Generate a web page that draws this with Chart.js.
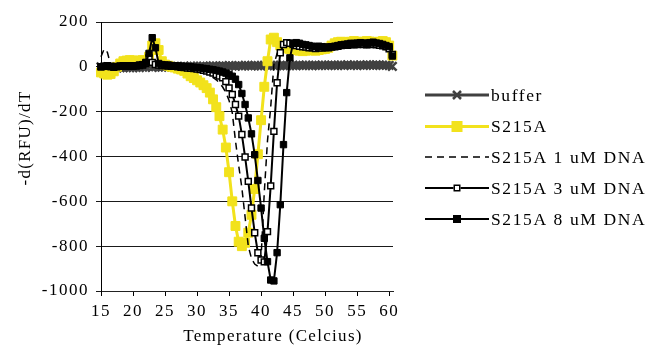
<!DOCTYPE html>
<html>
<head>
<meta charset="utf-8">
<script src="https://cdn.jsdelivr.net/npm/chart.js@4.4.0/dist/chart.umd.min.js"></script>
<style>
  html, body { margin: 0; padding: 0; background: #fff; }
  #wrap { width: 652px; height: 348px; }
</style>
</head>
<body>
<div id="wrap"><canvas id="melt" width="652" height="348"></canvas></div>
<script>
// temperature steps (Celcius)
const temps = [
  15, 15.5, 16, 16.5, 17, 17.5, 18, 18.5, 19, 19.5,
  20, 20.5, 21, 21.5, 22, 22.5, 23, 23.5, 24, 24.5,
  25, 25.5, 26, 26.5, 27, 27.5, 28, 28.5, 29, 29.5,
  30, 30.5, 31, 31.5, 32, 32.5, 33, 33.5, 34, 34.5,
  35, 35.5, 36, 36.5, 37, 37.5, 38, 38.5, 39, 39.5,
  40, 40.5, 41, 41.5, 42, 42.5, 43, 43.5, 44, 44.5,
  45, 45.5, 46, 46.5, 47, 47.5, 48, 48.5, 49, 49.5,
  50, 50.5, 51, 51.5, 52, 52.5, 53, 53.5, 54, 54.5,
  55, 55.5, 56, 56.5, 57, 57.5, 58, 58.5, 59, 59.5,
  60, 60.5
];

// -d(RFU)/dT
const bufferVals = [
  0, -3, -5, -4, -6, -5, -4, -3, -2, -4,
  -3, -2, -3, -1, 0, 2, -2, 1, 0, -1,
  0, 1, 0, 2, 1, 0, 2, 1, 3, 2,
  1, 2, 3, 1, 2, 4, 3, 2, 4, 3,
  5, 4, 3, 5, 4, 6, 5, 4, 6, 5,
  4, 6, 5, 7, 6, 5, 7, 6, 5, 7,
  6, 5, 7, 6, 8, 6, 5, 7, 6, 8,
  7, 6, 8, 7, 6, 8, 7, 9, 7, 8,
  6, 8, 7, 9, 8, 7, 9, 8, 6, 8,
  7, 2
];
const s215aVals = [
  -25, -30, -35, -32, -20, 0, 15, 25, 28, 30,
  28, 25, 28, 30, 25, 45, 95, 105, 75, 25,
  10, 5, 0, -3, -8, -12, -18, -30, -42, -50,
  -60, -70, -82, -95, -115, -145, -180, -220, -280, -360,
  -470, -600, -710, -780, -800, -785, -740, -660, -545, -390,
  -238, -89, 25, 122, 130, 110, 95, 88, 82, 80,
  78, 75, 72, 70, 72, 75, 74, 72, 75, 78,
  80, 85, 95, 105, 110, 112, 108, 110, 112, 115,
  112, 110, 112, 115, 113, 110, 108, 112, 115, 110,
  95, 50
];
const dna1Vals = [
  45, 80, 65, 10, 0, -3, -2, 0, 2, 3,
  2, 3, 4, 5, 8, 15, 20, 12, 6, 4,
  3, 2, 0, -2, -4, -6, -8, -10, -12, -14,
  -16, -19, -24, -30, -38, -47, -58, -72, -90, -115,
  -150, -205, -330, -440, -540, -670, -800, -855, -880, -890,
  -850, -560, -330, -180, 10, 60, 80, 88, 92, 90,
  88, 85, 86, 84, 82, 84, 85, 83, 84, 86,
  85, 88, 90, 92, 95, 96, 98, 97, 100, 99,
  100, 102, 100, 98, 100, 99, 97, 95, 92, 88,
  80, 55
];
const dna3Vals = [
  0, 3, 5, 3, 0, 2, 4, 5, 3, 4,
  5, 5, 6, 8, 15, 40, 20, 10, 8, 6,
  5, 4, 3, 2, 0, -2, -3, -5, -6, -8,
  -10, -12, -15, -19, -23, -28, -34, -41, -49, -66,
  -94, -123, -168, -220, -302, -402, -511, -630, -740, -829,
  -862, -870, -735, -531, -288, -71, 63, 100, 108, 105,
  100, 95, 92, 90, 88, 85, 85, 82, 85, 84,
  86, 85, 88, 90, 92, 95, 98, 96, 100, 98,
  100, 102, 100, 98, 100, 102, 98, 96, 94, 90,
  80, 55
];
const dna8Vals = [
  0, 2, 3, 0, -2, 0, 2, 3, 5, 5,
  3, 5, 8, 10, 20, 60, 130, 85, 15, 10,
  8, 8, 6, 5, 4, 3, 2, 1, 0, -2,
  -3, -5, -7, -9, -11, -13, -16, -19, -23, -28,
  -34, -42, -55, -79, -119, -168, -228, -299, -392, -507,
  -630, -765, -869, -951, -955, -829, -615, -347, -115, 40,
  105, 108, 105, 100, 98, 95, 92, 90, 92, 90,
  88, 88, 90, 92, 95, 98, 100, 102, 105, 104,
  106, 108, 106, 105, 108, 110, 106, 104, 100, 95,
  90, 48
];

const xTicks = [15, 20, 25, 30, 35, 40, 45, 50, 55, 60];
const yTicks = [-1000, -800, -600, -400, -200, 0, 200];
const seriesNames = ['buffer', 'S215A', 'S215A 1 uM DNA', 'S215A 3 uM DNA', 'S215A 8 uM DNA'];

const serif = "'Liberation Serif', 'Times New Roman', serif";
const yellow = '#f2e21c';
const grey = '#404040';

function points(vals) {
  return temps.map((t, i) => ({ x: t, y: vals[i] }));
}

const datasets = [
  {
    label: seriesNames[0], data: points(bufferVals), order: 5,
    borderColor: grey, borderWidth: 3,
    pointStyle: 'crossRot', pointRadius: 6, pointBorderWidth: 2.5,
    pointBorderColor: grey, pointBackgroundColor: grey
  },
  {
    label: seriesNames[1], data: points(s215aVals), order: 4,
    borderColor: yellow, borderWidth: 3,
    pointStyle: 'rect', pointRadius: 6.3, pointBorderWidth: 1,
    pointBorderColor: yellow, pointBackgroundColor: yellow
  },
  {
    label: seriesNames[2], data: points(dna1Vals), order: 3,
    borderColor: '#000', borderWidth: 1.5, borderDash: [7, 5],
    pointRadius: 0
  },
  {
    label: seriesNames[3], data: points(dna3Vals), order: 2,
    borderColor: '#000', borderWidth: 2,
    pointStyle: 'rect', pointRadius: 4.2, pointBorderWidth: 1.5,
    pointBorderColor: '#000', pointBackgroundColor: '#fff'
  },
  {
    label: seriesNames[4], data: points(dna8Vals), order: 1,
    borderColor: '#000', borderWidth: 2,
    pointStyle: 'rect', pointRadius: 4.5, pointBorderWidth: 1,
    pointBorderColor: '#000', pointBackgroundColor: '#000'
  }
];
datasets.forEach(ds => { ds.tension = 0; ds.clip = false; ds.fill = false; });

// legend sample markers: [style, size, fill, stroke, lineWidth]
const legendMarks = [
  ['x', 8, grey, grey, 2.5],
  ['sq', 11, yellow, yellow, 0],
  null,
  ['sq', 7, '#fff', '#000', 1.5],
  ['sq', 8, '#000', '#000', 0]
];
const legendRows = [95, 126.5, 157, 188, 219];

function drawMark(ctx, m, x, y) {
  const [style, size, fill, stroke, lw] = m;
  const h = size / 2;
  if (style === 'x') {
    ctx.strokeStyle = stroke;
    ctx.lineWidth = lw;
    ctx.beginPath();
    ctx.moveTo(x - h, y - h); ctx.lineTo(x + h, y + h);
    ctx.moveTo(x + h, y - h); ctx.lineTo(x - h, y + h);
    ctx.stroke();
  } else {
    ctx.fillStyle = fill;
    ctx.fillRect(x - h, y - h, size, size);
    if (lw > 0) {
      ctx.strokeStyle = stroke;
      ctx.lineWidth = lw;
      ctx.strokeRect(x - h + lw / 2, y - h + lw / 2, size - lw, size - lw);
    }
  }
}

const spacingPlugin = {
  id: 'spacing',
  beforeDraw(chart) { chart.ctx.letterSpacing = '1.5px'; }
};

const extrasPlugin = {
  id: 'extras',
  afterDraw(chart) {
    const ctx = chart.ctx;
    ctx.save();
    ctx.fillStyle = '#000';
    ctx.letterSpacing = '1.3px';
    ctx.font = '17px ' + serif;
    ctx.textAlign = 'center';
    ctx.textBaseline = 'middle';
    ctx.fillText('Temperature (Celcius)', 273, 337);
    ctx.translate(26, 138);
    ctx.rotate(-Math.PI / 2);
    ctx.fillText('-d(RFU)/dT', 0, 0);
    ctx.restore();

    chart.data.datasets.forEach((ds, i) => {
      const y = legendRows[i];
      ctx.save();
      ctx.strokeStyle = ds.borderColor;
      ctx.lineWidth = ds.borderWidth;
      ctx.setLineDash(ds.borderDash || []);
      ctx.beginPath();
      ctx.moveTo(425, y);
      ctx.lineTo(489, y);
      ctx.stroke();
      ctx.setLineDash([]);
      if (legendMarks[i]) drawMark(ctx, legendMarks[i], 457, y);
      ctx.fillStyle = '#000';
      ctx.letterSpacing = '1.6px';
      ctx.font = '17.5px ' + serif;
      ctx.textAlign = 'left';
      ctx.textBaseline = 'middle';
      ctx.fillText(ds.label, 491, y + 1);
      ctx.restore();
    });
  }
};

Chart.defaults.color = '#000';
Chart.defaults.font.family = serif;

new Chart(document.getElementById('melt'), {
  type: 'line',
  data: { datasets: datasets },
  plugins: [spacingPlugin, extrasPlugin],
  options: {
    responsive: false,
    animation: false,
    events: [],
    layout: { padding: { top: 22, right: 259, bottom: 0, left: 0 } },
    plugins: {
      legend: { display: false },
      tooltip: { enabled: false },
      title: { display: false }
    },
    scales: {
      x: {
        type: 'linear',
        min: 15,
        max: 60.6,
        afterBuildTicks: scale => { scale.ticks = xTicks.map(v => ({ value: v })); },
        afterFit: scale => { scale.height = 57; },
        grid: { drawOnChartArea: false, drawTicks: true, tickLength: 5, color: '#000' },
        border: { color: '#222', width: 1 },
        ticks: { font: { size: 17 }, padding: 5, maxRotation: 0, callback: v => String(v) }
      },
      y: {
        type: 'linear',
        min: -1000,
        max: 200,
        afterBuildTicks: scale => { scale.ticks = yTicks.map(v => ({ value: v })); },
        afterFit: scale => { scale.width = 101; },
        grid: { color: '#1a1a1a', lineWidth: 1, drawTicks: true, tickLength: 5 },
        border: { color: '#000', width: 1 },
        ticks: { font: { size: 17 }, padding: 7, callback: v => String(v) }
      }
    }
  }
});
</script>
</body>
</html>
